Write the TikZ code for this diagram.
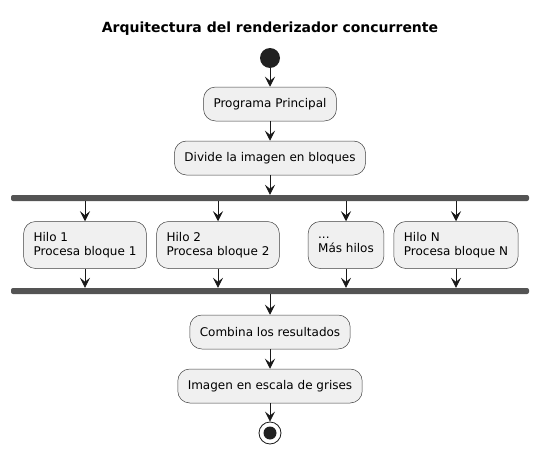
\documentclass[tikz,border=0pt]{standalone}
\usepackage{fontspec}
\setmainfont{DejaVu Sans}
\usetikzlibrary{arrows.meta}
\begin{document}
\begin{tikzpicture}[x=1pt,y=-1pt,
  act/.style = {draw=black!75, line width=0.5pt, fill=black!6, rounded corners=12pt, inner xsep=10pt, minimum height=34pt, font=\fontsize{12}{14}\selectfont},
  act2/.style = {act, align=left, minimum height=47pt},
  bar/.style = {fill=black!67, rounded corners=2pt, minimum width=518pt, minimum height=6pt, inner sep=0pt},
  flow/.style = {-{Stealth[length=10pt,width=10pt,inset=4pt]}, line width=0.8pt, black!90}]
\useasboundingbox (0,0) rectangle (539,455);
\node[font=\bfseries\fontsize{14}{16}\selectfont] (title) at (270,29) {Arquitectura del renderizador concurrente};
\node[circle, fill=black!87, minimum size=20pt, inner sep=0pt] (start) at (270,58) {};
\node[act] (prog) at (270,104) {Programa Principal};
\node[act] (div) at (270,158) {Divide la imagen en bloques};
\node[bar] (fork) at (270,198) {};
\node[act2] (t1) at (85,245) {Hilo 1\\Procesa bloque 1};
\node[act2] (t2) at (218,245) {Hilo 2\\Procesa bloque 2};
\node[act2] (t3) at (346,245) {...\\Más hilos};
\node[act2] (t4) at (456,245) {Hilo N\\Procesa bloque N};
\node[bar] (join) at (270,291) {};
\node[act] (comb) at (270,332) {Combina los resultados};
\node[act] (img) at (270,386) {Imagen en escala de grises};
\node[circle, draw=black!90, line width=0.8pt, fill=white, minimum size=22pt, inner sep=0pt] (stop) at (270,433) {};
\node[circle, fill=black!87, minimum size=13pt, inner sep=0pt] at (stop) {};
\draw[flow] (start) -- (prog);
\draw[flow] (prog) -- (div);
\draw[flow] (div) -- (fork);
\foreach \t in {t1,t2,t3,t4} {
  \draw[flow] (\t |- fork.south) -- (\t.north);
  \draw[flow] (\t.south) -- (\t |- join.north);
}
\draw[flow] (join) -- (comb);
\draw[flow] (comb) -- (img);
\draw[flow] (img) -- (stop);
\end{tikzpicture}
\end{document}
